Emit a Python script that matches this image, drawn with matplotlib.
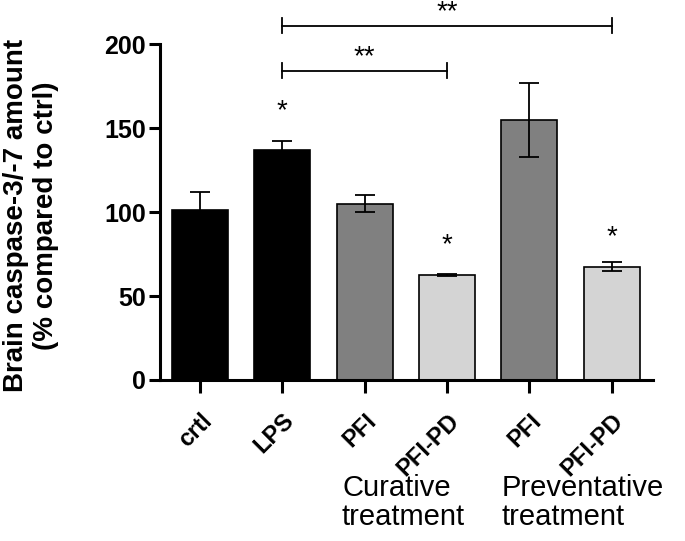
import matplotlib
matplotlib.use('Agg')
import matplotlib.pyplot as plt

plt.rcParams['font.family'] = ['Liberation Sans', 'DejaVu Sans']

labels = ['crtl', 'LPS', 'PFI', 'PFI-PD', 'PFI', 'PFI-PD']
means = [101, 137, 105, 62.5, 155, 67.5]
errors = [11, 5, 5, 0.6, 22, 2.5]
colors = ['black', 'black', '#808080', '#d4d4d4', '#808080', '#d4d4d4']
stars = {1: 160, 3: 80, 5: 85}
brackets = [(1, 5, 211, '**'), (1, 3, 184, '**')]

fig = plt.figure(figsize=(6.85, 5.41), dpi=100)
ax = fig.add_axes([0.2336, 0.2976, 0.7197, 0.621])

x = range(len(labels))
ax.bar(x, means, width=0.68, color=colors, edgecolor='black', linewidth=1.2, zorder=2)
ax.errorbar(x, means, yerr=errors, fmt='none', ecolor='black',
            elinewidth=1.3, capsize=7.5, capthick=1.3, zorder=3)

for i, y in stars.items():
    ax.text(i, y, '*', ha='center', va='center', fontsize=20)

for x0, x1, y, s in brackets:
    ax.plot([x0, x1], [y, y], color='black', lw=1.3, clip_on=False)
    for xe in (x0, x1):
        ax.plot([xe, xe], [y - 4.5, y + 4.5], color='black', lw=1.3, clip_on=False)
    ax.text((x0 + x1) / 2, y + 8, s, ha='center', va='center', fontsize=20)

ax.set_xlim(-0.485, 5.5)
ax.set_ylim(0, 200)
ax.set_yticks([0, 50, 100, 150, 200])
ax.set_xticks(list(x))
ax.set_xticklabels(labels, rotation=45, ha='right', rotation_mode='anchor',
                   fontsize=17, fontweight='bold')
for t in ax.get_yticklabels():
    t.set_fontsize(18)
    t.set_fontweight('bold')

for side in ('top', 'right'):
    ax.spines[side].set_visible(False)
for side in ('left', 'bottom'):
    ax.spines[side].set_linewidth(2.2)
ax.tick_params(axis='y', width=2.2, length=8, pad=2)
ax.tick_params(axis='x', width=2.2, length=9, pad=12)

ax.set_ylabel('Brain caspase-3/-7 amount\n(% compared to ctrl)', fontsize=20,
              fontweight='bold', linespacing=1.2)
ax.yaxis.set_label_coords(-0.205, 0.49)

fig.text(342 / 685, 1 - 474 / 541, 'Curative\ntreatment', fontsize=21,
         ha='left', va='top', linespacing=1.05)
fig.text(502 / 685, 1 - 474 / 541, 'Preventative\ntreatment', fontsize=21,
         ha='left', va='top', linespacing=1.05)

fig.savefig('out.png', dpi=100)
